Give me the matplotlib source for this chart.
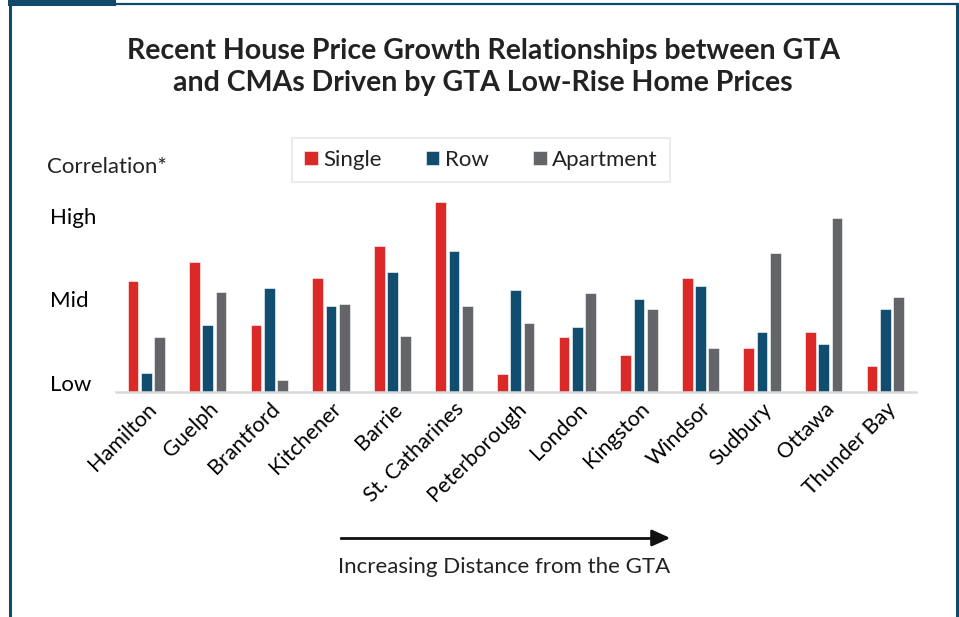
import numpy as np
import matplotlib
matplotlib.use("Agg")
from matplotlib import pyplot as plt
from matplotlib.patches import Rectangle
from matplotlib.lines import Line2D

# データ
cities = ['Hamilton', 'Guelph', 'Brantford', 'Kitchener', 'Barrie', 'St. Catharines',
          'Peterborough', 'London', 'Kingston', 'Windsor', 'Sudbury', 'Ottawa', 'Thunder Bay']
single = [63, 74, 38, 65, 83, 108, 10, 31, 21, 65, 25, 34, 15]
row = [11, 38, 59, 49, 68, 80, 58, 37, 53, 60, 34, 27, 47]
apartment = [31, 57, 7, 50, 32, 49, 39, 56, 47, 25, 79, 99, 54]
level_ticks = [5, 53, 100]
level_labels = ['Low', 'Mid', 'High']

RED = '#DA2927'
NAVY = '#114D6E'
GRAY = '#636569'
BORDER = '#0F4A6B'

plt.rcParams['font.family'] = ['Lato', 'DejaVu Sans']
plt.rcParams['text.color'] = '#222222'
FS = 16

W, H = 959, 617
fig = plt.figure(figsize=(W / 100, H / 100), dpi=100)

# 軸の位置（ピクセル基準）
ax_l, ax_r, ax_b, ax_t = 116, 916, 392, 192
ax = fig.add_axes([ax_l / W, 1 - ax_b / H, (ax_r - ax_l) / W, (ax_b - ax_t) / H])

x = np.arange(len(cities))
bw = 0.174
step = 0.216
for off, vals, col, lab in [(-step, single, RED, 'Single'),
                            (0, row, NAVY, 'Row'),
                            (step, apartment, GRAY, 'Apartment')]:
    ax.bar(x + off, vals, width=bw, color=col, label=lab,
           edgecolor='white', linewidth=0.4)

ax.set_xlim(-0.49, len(cities) - 0.5)
ax.set_ylim(0, 200 / 1.76)

for s in ['top', 'right', 'left']:
    ax.spines[s].set_visible(False)
ax.spines['bottom'].set_color('#d9d9d9')
ax.spines['bottom'].set_linewidth(1.8)

ax.set_xticks(x)
ax.set_xticklabels(cities, rotation=45, ha='right', rotation_mode='anchor', fontsize=FS - 0.5)
ax.tick_params(axis='x', length=0, pad=5)

ax.set_yticks(level_ticks)
ax.set_yticklabels(level_labels, fontsize=FS)
ax.tick_params(axis='y', length=0, pad=47.5)
for t in ax.get_yticklabels():
    t.set_ha('left')

leg = ax.legend(loc='center', bbox_to_anchor=((481 - ax_l) / (ax_r - ax_l), (392 - 160) / 200),
                ncol=3, frameon=True, fontsize=FS, handlelength=0.6, handleheight=0.6,
                handletextpad=0.25, columnspacing=2.0, borderpad=0.55, borderaxespad=0,
                fancybox=False)
leg.get_frame().set_edgecolor('#e0e0e0')
leg.get_frame().set_linewidth(1.2)

# タイトルなど
fig.text(483 / W, 1 - 67 / H, 'Recent House Price Growth Relationships between GTA\nand CMAs Driven by GTA Low-Rise Home Prices',
         ha='center', va='center', fontsize=20.5, fontweight='bold', linespacing=1.3)
fig.text(47 / W, 1 - 167 / H, 'Correlation*', ha='left', va='center', fontsize=FS)

fig.add_artist(Line2D([341 / W, 665 / W], [1 - 538 / H, 1 - 538 / H], color='#111111', lw=2))
ax.annotate('', xy=(673 / W, 1 - 538 / H), xytext=(655 / W, 1 - 538 / H), xycoords='figure fraction',
            arrowprops=dict(arrowstyle='-|>,head_length=1.1,head_width=0.5', color='#111111', lw=2))
fig.text(504 / W, 1 - 567 / H, 'Increasing Distance from the GTA', ha='center', va='center', fontsize=FS)

# 枠線
fig.add_artist(Line2D([10 / W, 10 / W], [0, 1 - 4 / H], color=BORDER, lw=2.2))
fig.add_artist(Line2D([10 / W, 957 / W], [1 - 4 / H, 1 - 4 / H], color=BORDER, lw=1.6))
fig.add_artist(Line2D([956.5 / W, 956.5 / W], [0, 1 - 4 / H], color=BORDER, lw=2.2))
fig.add_artist(Rectangle((8 / W, 1 - 5.5 / H), 108 / W, 5.5 / H, transform=fig.transFigure,
                         color=BORDER, lw=0))

fig.savefig('out.png', dpi=100)
